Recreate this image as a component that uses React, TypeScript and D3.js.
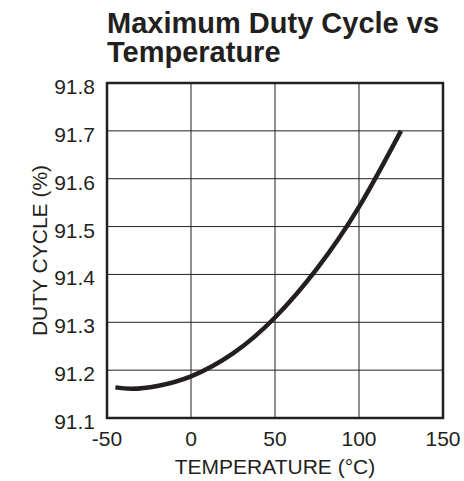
import React from "react";
import * as d3 from "d3";

const titleLines = ["Maximum Duty Cycle vs", "Temperature"];
const xLabel = "TEMPERATURE (°C)";
const yLabel = "DUTY CYCLE (%)";
const xTicks = [-50, 0, 50, 100, 150];
const yTicks = [91.1, 91.2, 91.3, 91.4, 91.5, 91.6, 91.7, 91.8];
const temperature = [-45, -35, -20, 0, 25, 50, 75, 100, 125];
const dutyCycle = [91.164, 91.161, 91.167, 91.187, 91.235, 91.31, 91.412, 91.541, 91.7];

const W = 464, H = 481;
const M = { left: 107, right: 443, top: 83, bottom: 418 };

export default function App() {
  const x = d3.scaleLinear().domain([-50, 150]).range([M.left, M.right]);
  const y = d3.scaleLinear().domain([91.1, 91.8]).range([M.bottom, M.top]);
  const pts: [number, number][] = temperature.map((t, i) => [t, dutyCycle[i]]);
  const line = d3.line<[number, number]>().x(d => x(d[0])).y(d => y(d[1])).curve(d3.curveNatural);
  const font = "'Liberation Sans', Arial, Helvetica, sans-serif";
  return (
    <svg width={W} height={H} style={{ position: "absolute", left: 0, top: 0, background: "#fff" }}>
      <g fontFamily={font} fill="#231f20">
        <text x={107} y={33} fontSize={29} fontWeight="bold">{titleLines[0]}</text>
        <text x={107} y={62} fontSize={29} fontWeight="bold">{titleLines[1]}</text>
      </g>
      {xTicks.slice(1, -1).map(t => (
        <line key={"gx" + t} x1={x(t)} x2={x(t)} y1={M.top} y2={M.bottom} stroke="#231f20" strokeWidth={1} />
      ))}
      {yTicks.slice(1, -1).map(t => (
        <line key={"gy" + t} x1={M.left} x2={M.right} y1={y(t)} y2={y(t)} stroke="#231f20" strokeWidth={1} />
      ))}
      <rect x={M.left} y={M.top} width={M.right - M.left} height={M.bottom - M.top} fill="none" stroke="#231f20" strokeWidth={2.5} />
      <path d={line(pts) || ""} fill="none" stroke="#231f20" strokeWidth={4.5} strokeLinecap="butt" />
      <g fontFamily={font} fontSize={21} fill="#231f20">
        {yTicks.map(t => (
          <text key={"ly" + t} x={95} y={y(t) + 11} textAnchor="end">{t.toFixed(1)}</text>
        ))}
        {xTicks.map(t => (
          <text key={"lx" + t} x={x(t)} y={445.5} textAnchor="middle">{t}</text>
        ))}
        <text x={(M.left + M.right) / 2} y={474} textAnchor="middle">{xLabel}</text>
        <text transform={`translate(47,${(M.top + M.bottom) / 2}) rotate(-90)`} textAnchor="middle">{yLabel}</text>
      </g>
    </svg>
  );
}
